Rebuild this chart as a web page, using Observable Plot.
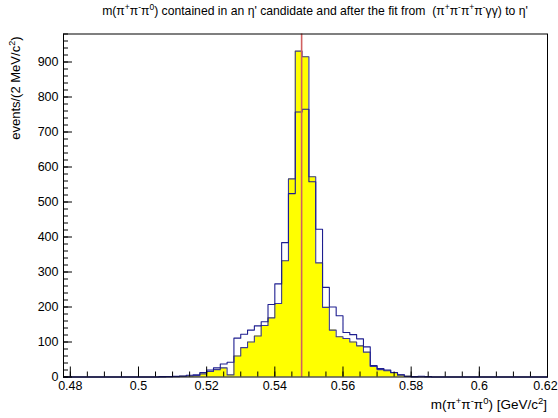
<!DOCTYPE html>
<html>
<head>
<meta charset="utf-8">
<script src="https://cdn.jsdelivr.net/npm/d3@7"></script>
<script src="https://cdn.jsdelivr.net/npm/@observablehq/plot@0.6"></script>
<style>
  html, body { margin: 0; padding: 0; background: #fff; }
  #chart svg { display: block; }
</style>
</head>
<body>
<div id="chart"></div>
<script>
// Histogram binning: 2 MeV bins starting at 0.478 GeV
const binStart = 0.478;
const binWidth = 0.002;
const rangeEnd = 0.62;

// Counts per bin, m(pi+ pi- pi0) before the kinematic fit (open blue histogram)
const beforeFit = [
  0, 0, 0, 0, 0, 0, 0, 0, 0, 0, 0, 0, 0, 0,
  1, 1, 2, 3, 5, 6, 13, 20, 26, 37,
  42, 111, 122, 134, 146, 158, 207, 266, 384, 524,
  757, 765, 558, 422, 256, 200, 175, 127, 121, 109,
  86, 33, 24, 20, 13, 6, 2, 1, 2, 1,
  0, 0, 0, 0, 0, 0, 0, 0, 0, 0, 0, 0, 0, 0, 0, 0, 0
];

// Counts per bin after the fit to eta' (filled yellow histogram)
const afterFit = [
  0, 0, 0, 0, 0, 0, 0, 0, 0, 0, 0, 0, 0, 0,
  0, 1, 1, 2, 3, 4, 9, 16, 21, 26,
  6, 60, 84, 100, 117, 147, 169, 210, 332, 566,
  931, 915, 572, 326, 199, 134, 115, 110, 100, 89,
  71, 30, 21, 18, 12, 6, 2, 0, 0, 0,
  0, 0, 0, 0, 0, 0, 0, 0, 0, 0, 0, 0, 0, 0, 0, 0, 0
];

// Nominal eta mass (GeV/c^2)
const etaMass = 0.547862;

// Axis ticks
const xTicks = [0.48, 0.5, 0.52, 0.54, 0.56, 0.58, 0.6, 0.62];
const yTicks = [0, 100, 200, 300, 400, 500, 600, 700, 800, 900];
const xMinor = d3.range(0, 29).map(i => +(0.48 + i * 0.005).toFixed(3));
const yMinor = d3.range(0, 50).map(i => i * 20);

// Step points: left edge of each bin, plus the closing edge
function steps(counts) {
  const pts = counts.map((v, i) => ({x: +(binStart + i * binWidth).toFixed(3), v}));
  pts.push({x: rangeEnd, v: 0});
  return pts;
}
const beforePts = steps(beforeFit);
const afterPts = steps(afterFit);

const W = 558, H = 418;
const mL = 63, mR = 11, mT = 33.5, mB = 41.5;
const frameW = W - mL - mR, frameH = H - mT - mB;
const navy = "#1e1e90";

const chart = Plot.plot({
  width: W,
  height: H,
  marginLeft: mL,
  marginRight: mR,
  marginTop: mT,
  marginBottom: mB,
  style: {fontFamily: "'Liberation Sans', Arial, sans-serif", fontSize: "12.5px", color: "black", background: "white"},
  x: {domain: [binStart, rangeEnd], axis: null},
  y: {domain: [0, 980], axis: null},
  marks: [
    Plot.areaY(afterPts, {x: "x", y: "v", curve: "step-after", fill: "#ffff00"}),
    Plot.lineY(afterPts, {x: "x", y: "v", curve: "step-after", stroke: "#3a3a96", strokeWidth: 1.1}),
    Plot.lineY(beforePts, {x: "x", y: "v", curve: "step-after", stroke: navy, strokeWidth: 1.1}),
    Plot.ruleX([etaMass], {stroke: "#d06060", strokeWidth: 1.6}),
    Plot.frame({stroke: "black", strokeWidth: 1}),
    Plot.tickY(yTicks, {y: d => d, insetRight: frameW - 9, stroke: "black"}),
    Plot.tickY(yMinor, {y: d => d, insetRight: frameW - 5, stroke: "black"}),
    Plot.tickX(xTicks, {x: d => d, insetTop: frameH - 10, stroke: "black"}),
    Plot.tickX(xMinor, {x: d => d, insetTop: frameH - 5, stroke: "black"}),
    Plot.text(yTicks, {y: d => d, frameAnchor: "left", dx: -5, textAnchor: "end", text: d => String(d)}),
    Plot.text(xTicks.slice(0, -1), {x: d => d, frameAnchor: "bottom", dy: 12.5, text: d => String(d)}),
    // right-most label pulled in slightly so it stays on the page
    Plot.text(xTicks.slice(-1), {x: d => d, frameAnchor: "bottom", dy: 12.5, dx: -2, text: d => String(d)})
  ]
});

document.getElementById("chart").appendChild(chart);

// Rich text with superscripts: parts are [string, isSuperscript]
function richText(sel, parts, supSize) {
  parts.forEach(([s, sup]) => {
    const t = sel.append("tspan").text(s);
    if (sup) t.attr("baseline-shift", "super").attr("font-size", supSize);
  });
}

const svg = d3.select(chart);
const font = "'Liberation Sans', Arial, sans-serif";

const title = svg.append("text")
  .attr("x", 315).attr("y", 15)
  .attr("text-anchor", "middle")
  .attr("font-family", font).attr("font-size", 12.2).attr("fill", "black");
richText(title, [
  ["m(π", false], ["+", true], ["π", false], ["-", true], ["π", false], ["0", true],
  [") contained in an η' candidate and after the fit from  (π", false],
  ["+", true], ["π", false], ["-", true], ["π", false], ["+", true], ["π", false], ["-", true],
  ["γγ) to η'", false]
], 8.5);

const ylab = svg.append("text")
  .attr("transform", `translate(20, ${mT + 3}) rotate(-90)`)
  .attr("text-anchor", "end")
  .attr("font-family", font).attr("font-size", 13).attr("fill", "black");
richText(ylab, [["events/(2 MeV/c", false], ["2", true], [")", false]], 9);

const xlab = svg.append("text")
  .attr("x", W - mR).attr("y", 409)
  .attr("text-anchor", "end")
  .attr("font-family", font).attr("font-size", 13.5).attr("fill", "black");
richText(xlab, [["m(π", false], ["+", true], ["π", false], ["-", true], ["π", false], ["0", true], [") [GeV/c", false], ["2", true], ["]", false]], 9.5);
</script>
</body>
</html>
